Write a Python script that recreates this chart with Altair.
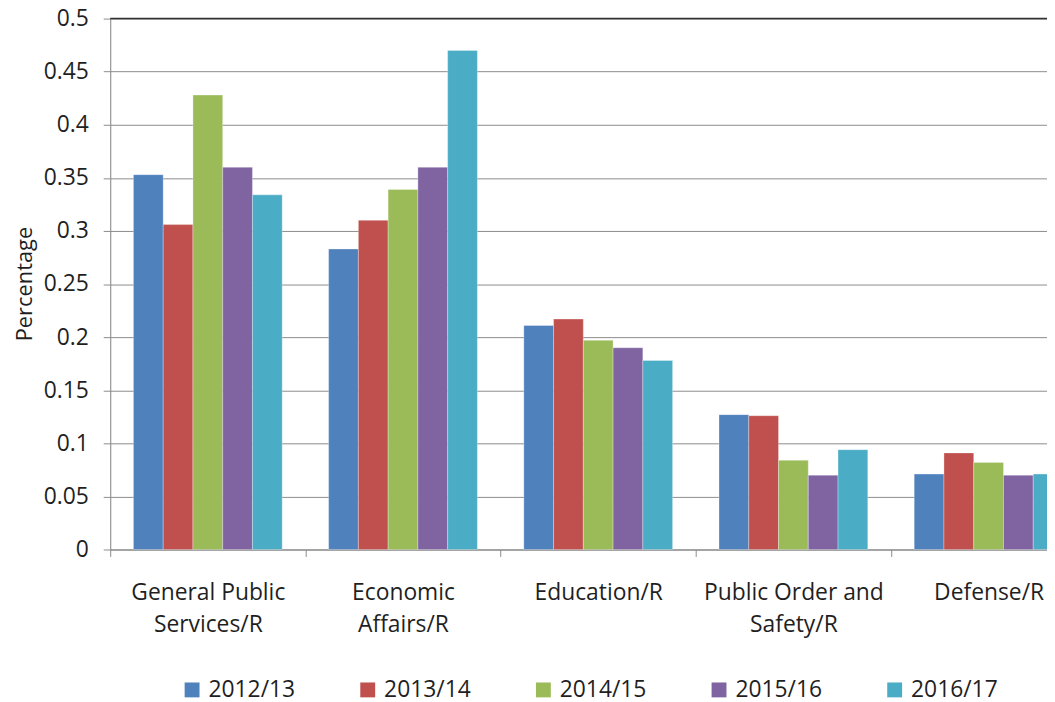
import altair as alt
import pandas as pd

categories = [
    "General Public\nServices/R",
    "Economic\nAffairs/R",
    "Education/R",
    "Public Order and\nSafety/R",
    "Defense/R",
]
years = ["2012/13", "2013/14", "2014/15", "2015/16", "2016/17"]
v_2012_13 = [0.353, 0.283, 0.211, 0.127, 0.071]
v_2013_14 = [0.306, 0.310, 0.217, 0.126, 0.091]
v_2014_15 = [0.428, 0.339, 0.197, 0.084, 0.082]
v_2015_16 = [0.360, 0.360, 0.190, 0.070, 0.070]
v_2016_17 = [0.334, 0.470, 0.178, 0.094, 0.071]
colors = ["#4F81BD", "#C0504D", "#9BBB59", "#8064A2", "#4BACC6"]
y_ticks = [0, 0.05, 0.1, 0.15, 0.2, 0.25, 0.3, 0.35, 0.4, 0.45, 0.5]

series = [v_2012_13, v_2013_14, v_2014_15, v_2015_16, v_2016_17]
rows = []
for yr, vals in zip(years, series):
    for cat, v in zip(categories, vals):
        rows.append({"category": cat, "year": yr, "value": v})
df = pd.DataFrame(rows)

FONT = "Open Sans"
TXT = "#1f1f1f"
GRID = "#8c8c8c"

bars = alt.Chart(df).mark_bar(stroke="#ffffff", strokeWidth=0.6, strokeOpacity=0.5).encode(
    x=alt.X(
        "category:N",
        sort=categories,
        scale=alt.Scale(range=[0, 983.5], paddingInner=0, paddingOuter=0),
        axis=alt.Axis(
            title=None,
            tickBand="extent",
            labelExpr="split(datum.label, '\\n')",
            labelAngle=0,
            labelBaseline="alphabetic",
            labelPadding=43,
            labelLineHeight=33,
            labelFontSize=23,
            labelFont=FONT,
            labelColor=TXT,
            labelLimit=400,
            labelOverlap=False,
            tickSize=7,
            tickColor=GRID,
            domainColor=GRID,
            grid=False,
        ),
    ),
    xOffset=alt.XOffset(
        "year:N", sort=years, scale=alt.Scale(paddingOuter=0.78, paddingInner=0)
    ),
    y=alt.Y(
        "value:Q",
        scale=alt.Scale(domain=[0, 0.5], nice=False),
        axis=alt.Axis(
            title="Percentage",
            values=y_ticks,
            format="~g",
            labelFontSize=23,
            labelFont=FONT,
            labelColor=TXT,
            labelPadding=15,
            tickSize=7,
            tickColor=GRID,
            domainColor=GRID,
            gridColor=GRID,
            titleFontSize=22,
            titleFont=FONT,
            titleFontWeight="normal",
            titleColor=TXT,
            titleX=-86,
            titleY=267,
            titleAngle=270,
            titleAlign="center",
            titleBaseline="middle",
        ),
    ),
    color=alt.Color(
        "year:N",
        sort=years,
        scale=alt.Scale(domain=years, range=colors),
        legend=alt.Legend(
            title=None,
            orient="none",
            legendX=71,
            legendY=665,
            direction="horizontal",
            columns=5,
            gridAlign="none",
            symbolType="square",
            symbolSize=225,
            symbolStrokeWidth=0,
            symbolOpacity=1,
            labelFontSize=23,
            labelFont=FONT,
            labelColor=TXT,
            labelOffset=5,
            columnPadding=61,
            padding=0,
        ),
    ),
)

top_line = alt.Chart(pd.DataFrame({"y": [0.5]})).mark_rule(
    color="#303030", strokeWidth=1.5
).encode(y="y:Q")

chart = (
    alt.layer(bars, top_line)
    .properties(
        width=944,
        height=535,
        autosize=alt.AutoSizeParams(type="none"),
        padding={"left": 103, "top": 8, "right": 0, "bottom": 151},
    )
    .configure_view(stroke=None)
    .configure(background="white")
)

chart.save("out.html", embed_options={"renderer": "svg", "actions": False})
